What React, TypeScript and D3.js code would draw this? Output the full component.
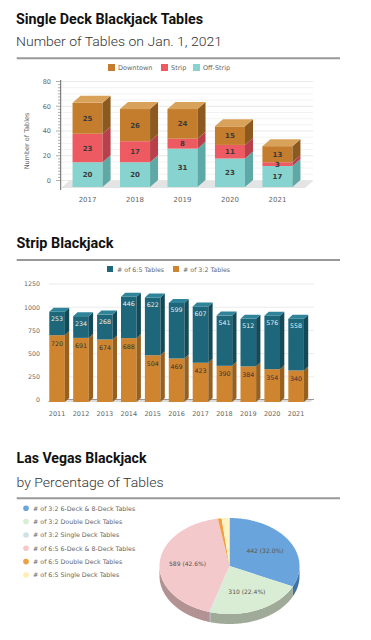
import React from "react";
import * as d3 from "d3";

// ---------- Data ----------
const sdYears = ["2017", "2018", "2019", "2020", "2021"];
const sdOffStrip = [20, 20, 31, 23, 17];
const sdStrip = [23, 17, 8, 11, 3];
const sdDowntown = [25, 26, 24, 15, 13];
const sdTicks = [0, 20, 40, 60, 80];

const sbYears = ["2011", "2012", "2013", "2014", "2015", "2016", "2017", "2018", "2019", "2020", "2021"];
const sb32 = [720, 691, 674, 688, 504, 469, 423, 390, 384, 354, 340];
const sb65 = [253, 234, 268, 446, 622, 599, 607, 541, 512, 576, 558];
const sbTicks = [0, 250, 500, 750, 1000, 1250];

const pieLabels = [
  "# of 3:2 6-Deck & 8-Deck Tables",
  "# of 3:2 Double Deck Tables",
  "# of 3:2 Single Deck Tables",
  "# of 6:5 6-Deck & 8-Deck Tables",
  "# of 6:5 Double Deck Tables",
  "# of 6:5 Single Deck Tables",
];
const pieValues = [442, 310, 4, 589, 12, 25];
const pieShowLabel = [true, true, false, true, false, false];

// ---------- Styles ----------
const TITLE_FONT = "Roboto, 'Liberation Sans', Arial, sans-serif";
const SUB_FONT = "Roboto, 'Liberation Sans', Arial, sans-serif";
const CHART_FONT = "'DejaVu Sans', Verdana, sans-serif";

const sdColors = {
  off: { front: "#86d3d0", side: "#5ea9a6", top: "#a9e1df" },
  strip: { front: "#ee5a62", side: "#b8404a", top: "#f28a90" },
  down: { front: "#c47d2d", side: "#8c5a1e", top: "#d9a25a" },
};
const sbColors = {
  c32: { front: "#cf8530", side: "#97601f", top: "#e0a352" },
  c65: { front: "#1e6679", side: "#124a58", top: "#2f8499" },
};
const pieTop = ["#6aa4dc", "#d9ecd4", "#cfe2e8", "#f3c9cb", "#f0a040", "#fff3c4"];
const pieSide = ["#3f73a6", "#9fab98", "#98a8ad", "#b39294", "#b07428", "#c8bd90"];

function Box({ x, w, yTop, yBot, dx, dy, c, top }: any) {
  return (
    <g>
      <rect x={x} y={yTop} width={w} height={Math.max(0, yBot - yTop)} fill={c.front} />
      <polygon
        points={`${x + w},${yTop} ${x + w + dx},${yTop + dy} ${x + w + dx},${yBot + dy} ${x + w},${yBot}`}
        fill={c.side}
      />
      {top && (
        <polygon
          points={`${x},${yTop} ${x + dx},${yTop + dy} ${x + w + dx},${yTop + dy} ${x + w},${yTop}`}
          fill={c.top}
        />
      )}
    </g>
  );
}

function Chart1() {
  const dx = 8, dy = -7;
  const x = d3.scaleBand().domain(sdYears).range([64, 301]).paddingInner(0.367).paddingOuter(0.18);
  const yF = d3.scaleLinear().domain([0, 80]).range([187, 88]);
  const yB = d3.scaleLinear().domain([0, 80]).range([180.5, 81.5]);
  const grid = d3.range(0, 81, 5);
  const minor = d3.range(0, 82.5, 2.5);
  const legend = [
    { label: "Downtown", c: sdColors.down.front, x: 108 },
    { label: "Strip", c: sdColors.strip.front, x: 161 },
    { label: "Off-Strip", c: sdColors.off.front, x: 193 },
  ];
  return (
    <g>
      {legend.map((l) => (
        <g key={l.label}>
          <rect x={l.x} y={64} width={7} height={7} fill={l.c} />
          <text x={l.x + 10} y={70} fontSize={6.5} fill="#666" fontFamily={CHART_FONT}>{l.label}</text>
        </g>
      ))}
      {grid.map((g) => (
        <line key={g} x1={61} x2={313} y1={yB(g)} y2={yB(g)} stroke={g % 20 === 0 ? "#e2e2e2" : "#efefef"} strokeWidth={0.8} />
      ))}
      <polygon points={`${61},${188} ${305},${188} ${313},${181} ${69},${181}`} fill="#e4e4e4" />
      <line x1={60.7} x2={60.7} y1={80} y2={190} stroke="#666" strokeWidth={1} />
      {minor.map((m) => (
        <line key={m} x1={m % 20 === 0 ? 56 : 58} x2={60.7} y1={yB(m)} y2={yB(m)} stroke="#777" strokeWidth={0.6} />
      ))}
      {sdTicks.map((t) => (
        <text key={t} x={51} y={yB(t) + 2.3} fontSize={6.5} textAnchor="end" fill="#666" fontFamily={CHART_FONT}>{t}</text>
      ))}
      <text transform="translate(29,141) rotate(-90)" fontSize={6.5} textAnchor="middle" fill="#666" fontFamily={CHART_FONT}>Number of Tables</text>
      {sdYears.map((yr, i) => {
        const bx = x(yr)!, w = x.bandwidth();
        const segs = [
          { v0: 0, v1: sdOffStrip[i], c: sdColors.off, val: sdOffStrip[i] },
          { v0: sdOffStrip[i], v1: sdOffStrip[i] + sdStrip[i], c: sdColors.strip, val: sdStrip[i] },
          { v0: sdOffStrip[i] + sdStrip[i], v1: sdOffStrip[i] + sdStrip[i] + sdDowntown[i], c: sdColors.down, val: sdDowntown[i] },
        ];
        return (
          <g key={yr}>
            {segs.map((s, k) => (
              <Box key={k} x={bx} w={w} yTop={yF(s.v1)} yBot={yF(s.v0)} dx={dx} dy={dy} c={s.c} top={k === 2} />
            ))}
            {segs.map((s, k) => (
              <text key={"t" + k} x={bx + w / 2} y={(yF(s.v1) + yF(s.v0)) / 2 + 2.5} fontSize={7} fontWeight="bold" textAnchor="middle" fill="#3a3a3a" fontFamily={CHART_FONT}>{s.val}</text>
            ))}
            <text x={bx + w / 2} y={201.5} fontSize={7} textAnchor="middle" fill="#666" fontFamily={CHART_FONT}>{yr}</text>
          </g>
        );
      })}
    </g>
  );
}

function Chart2() {
  const dx = 4.3, dy = -4;
  const x = d3.scaleBand().domain(sbYears).range([46.9, 306.3]).paddingInner(0.347).paddingOuter(0.1);
  const yF = d3.scaleLinear().domain([0, 1250]).range([402, 286]);
  const yB = d3.scaleLinear().domain([0, 1250]).range([400, 284]);
  return (
    <g>
      <rect x={107} y={266} width={6} height={6} fill={sbColors.c65.front} />
      <text x={117} y={271.5} fontSize={6.3} fill="#666" fontFamily={CHART_FONT}># of 6:5 Tables</text>
      <rect x={173} y={266} width={6} height={6} fill={sbColors.c32.front} />
      <text x={183} y={271.5} fontSize={6.3} fill="#666" fontFamily={CHART_FONT}># of 3:2 Tables</text>
      {sbTicks.map((t) => (
        <g key={t}>
          {t > 0 && <line x1={49} x2={314} y1={yB(t)} y2={yB(t)} stroke="#e6e6e6" strokeWidth={0.8} />}
          <text x={40} y={yB(t) + 2.3} fontSize={6.3} textAnchor="end" fill="#666" fontFamily={CHART_FONT}>{t}</text>
        </g>
      ))}
      <polygon points={`${47},${402} ${310},${402} ${314},${399} ${51},${399}`} fill="#dcdcdc" />
      <line x1={51} x2={314} y1={399.5} y2={399.5} stroke="#999" strokeWidth={1} />
      {sbYears.map((yr, i) => {
        const bx = x(yr)!, w = x.bandwidth();
        const a = sb32[i], b = sb65[i];
        return (
          <g key={yr}>
            <Box x={bx} w={w} yTop={yF(a)} yBot={yF(0)} dx={dx} dy={dy} c={sbColors.c32} top={false} />
            <Box x={bx} w={w} yTop={yF(a + b)} yBot={yF(a)} dx={dx} dy={dy} c={sbColors.c65} top={true} />
            <text x={bx + w / 2} y={yF(a + b) + 9.5} fontSize={6.3} textAnchor="middle" fill="#e6f0f2" fontFamily={CHART_FONT}>{b}</text>
            <text x={bx + w / 2} y={yF(a) + 10.5} fontSize={6.3} textAnchor="middle" fill="#333" fontFamily={CHART_FONT}>{a}</text>
            <text x={bx + w / 2} y={415.5} fontSize={6.5} textAnchor="middle" fill="#666" fontFamily={CHART_FONT}>{yr}</text>
          </g>
        );
      })}
    </g>
  );
}

function Chart3() {
  const cx = 229.5, cy = 566, rx = 70, ry = 48, depth = 10;
  const total = d3.sum(pieValues);
  const arcs = d3.pie<number>().sort(null).startAngle(0).endAngle(2 * Math.PI)(pieValues);
  const pt = (a: number, dyy = 0) => [cx + rx * Math.sin(a), cy - ry * Math.cos(a) + dyy];
  const samples = (a0: number, a1: number) => {
    const n = Math.max(2, Math.ceil(Math.abs(a1 - a0) / 0.02));
    return d3.range(n + 1).map((k) => a0 + ((a1 - a0) * k) / n);
  };
  const topPath = (a0: number, a1: number) => {
    const p = samples(a0, a1).map((a) => pt(a));
    return `M${cx},${cy}L` + p.map((q) => q.join(",")).join("L") + "Z";
  };
  const sidePath = (a0: number, a1: number) => {
    const s = Math.max(a0, Math.PI / 2), e = Math.min(a1, (3 * Math.PI) / 2);
    if (e <= s) return null;
    const up = samples(s, e).map((a) => pt(a));
    const dn = samples(e, s).map((a) => pt(a, depth));
    return "M" + up.concat(dn).map((q) => q.join(",")).join("L") + "Z";
  };
  const ly = [508.3, 521.6, 535, 548.3, 561.6, 575];
  return (
    <g>
      {pieLabels.map((l, i) => (
        <g key={l}>
          <circle cx={26} cy={ly[i]} r={2.8} fill={pieTop[i] === "#fff3c4" ? "#ffeeb0" : pieTop[i]} />
          <text x={33} y={ly[i] + 2.2} fontSize={6.3} fill="#666" fontFamily={CHART_FONT}>{l}</text>
        </g>
      ))}
      {arcs.map((a, i) => {
        const d = sidePath(a.startAngle, a.endAngle);
        return d ? <path key={"s" + i} d={d} fill={pieSide[i]} /> : null;
      })}
      {arcs.map((a, i) => (
        <path key={"t" + i} d={topPath(a.startAngle, a.endAngle)} fill={pieTop[i]} />
      ))}
      {arcs.map((a, i) => {
        if (!pieShowLabel[i]) return null;
        const m = (a.startAngle + a.endAngle) / 2;
        const lx = cx + rx * 0.6 * Math.sin(m);
        const lyy = cy - ry * 0.6 * Math.cos(m);
        const pct = ((a.data / total) * 100).toFixed(1);
        return (
          <text key={"l" + i} x={lx} y={lyy + 2} fontSize={6} textAnchor="middle" fill="#555" fontFamily={CHART_FONT}>
            {`${a.data} (${pct}%)`}
          </text>
        );
      })}
    </g>
  );
}

export default function App() {
  return (
    <svg width={371} height={640} style={{ position: "absolute", left: 0, top: 0, background: "#fff" }}>
      <rect width={371} height={640} fill="#fff" />
      <text x={16} y={24} fontSize={15.5} fontWeight="bold" fill="#111" fontFamily={TITLE_FONT} textLength={187} lengthAdjust="spacingAndGlyphs">Single Deck Blackjack Tables</text>
      <text x={16} y={45.7} fontSize={13.5} fontWeight={300} fill="#333" fontFamily={SUB_FONT} textLength={206} lengthAdjust="spacingAndGlyphs">Number of Tables on Jan. 1, 2021</text>
      <line x1={16.7} x2={340} y1={58.3} y2={58.3} stroke="#999" strokeWidth={2} />
      <Chart1 />

      <text x={16.5} y={248.3} fontSize={15.5} fontWeight="bold" fill="#111" fontFamily={TITLE_FONT} textLength={97} lengthAdjust="spacingAndGlyphs">Strip Blackjack</text>
      <line x1={16.7} x2={340} y1={260} y2={260} stroke="#999" strokeWidth={2} />
      <Chart2 />

      <text x={16.5} y={463.3} fontSize={15.5} fontWeight="bold" fill="#111" fontFamily={TITLE_FONT} textLength={130} lengthAdjust="spacingAndGlyphs">Las Vegas Blackjack</text>
      <text x={16.5} y={486.7} fontSize={13.5} fontWeight={300} fill="#333" fontFamily={SUB_FONT} textLength={147} lengthAdjust="spacingAndGlyphs">by Percentage of Tables</text>
      <line x1={16.7} x2={340} y1={498.3} y2={498.3} stroke="#999" strokeWidth={2} />
      <Chart3 />
    </svg>
  );
}
